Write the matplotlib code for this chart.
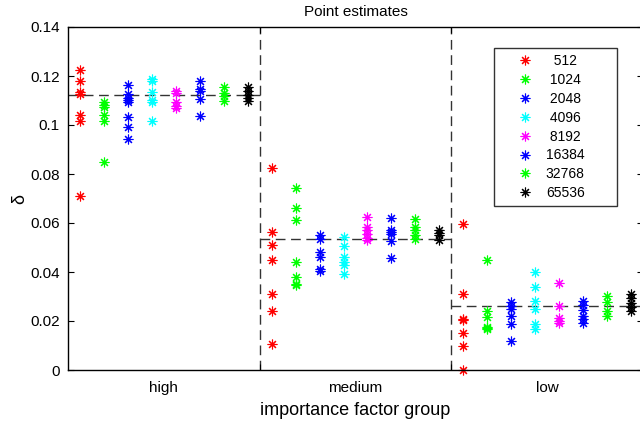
import numpy as np
import matplotlib
matplotlib.use("Agg")
import matplotlib.pyplot as plt
from matplotlib.ticker import FuncFormatter


plt.rcParams["font.family"] = ["Liberation Sans", "DejaVu Sans"]

# groups on the x axis and the horizontal reference level of each
groups = ["high", "medium", "low"]
group_means = [0.1121, 0.0533, 0.0260]

# legend labels and colours (MATLAB style)
series = ["512", "1024", "2048", "4096", "8192", "16384", "32768", "65536"]
colors = ["#ff0000", "#00ff00", "#0000ff", "#00ffff",
          "#ff00ff", "#0000ff", "#00ff00", "#000000"]

# point estimates per series: (high, medium, low)
v512 = ([0.1225, 0.1180, 0.1135, 0.1128, 0.1042, 0.1018, 0.0712],
        [0.0825, 0.0563, 0.0509, 0.0451, 0.0309, 0.0242, 0.0105],
        [0.0594, 0.0312, 0.0210, 0.0204, 0.0152, 0.0098, 0.0000])
v1024 = ([0.1092, 0.1083, 0.1075, 0.1042, 0.1018, 0.0848],
         [0.0744, 0.0661, 0.0611, 0.0441, 0.0380, 0.0353, 0.0346],
         [0.0448, 0.0241, 0.0215, 0.0176, 0.0170, 0.0167])
v2048 = ([0.1164, 0.1126, 0.1112, 0.1102, 0.1095, 0.1031, 0.0990, 0.0943],
         [0.0549, 0.0536, 0.0482, 0.0461, 0.0414, 0.0404],
         [0.0278, 0.0260, 0.0247, 0.0220, 0.0186, 0.0119])
v4096 = ([0.1186, 0.1180, 0.1135, 0.1102, 0.1095, 0.1018],
         [0.0543, 0.0505, 0.0461, 0.0441, 0.0427, 0.0391],
         [0.0399, 0.0339, 0.0281, 0.0251, 0.0187, 0.0166])
v8192 = ([0.1140, 0.1130, 0.1092, 0.1079, 0.1069],
         [0.0624, 0.0583, 0.0570, 0.0556, 0.0540, 0.0532],
         [0.0355, 0.0260, 0.0214, 0.0200, 0.0193])
v16384 = ([0.1178, 0.1147, 0.1137, 0.1106, 0.1038],
          [0.0621, 0.0573, 0.0563, 0.0554, 0.0526, 0.0457],
          [0.0281, 0.0265, 0.0244, 0.0220, 0.0210, 0.0190])
v32768 = ([0.1156, 0.1129, 0.1119, 0.1099],
          [0.0615, 0.0583, 0.0573, 0.0549, 0.0536],
          [0.0301, 0.0278, 0.0240, 0.0220])
v65536 = ([0.1156, 0.1140, 0.1123, 0.1112, 0.1099],
          [0.0570, 0.0559, 0.0549, 0.0529],
          [0.0312, 0.0294, 0.0274, 0.0258, 0.0241])

yticks = [0, 0.02, 0.04, 0.06, 0.08, 0.1, 0.12, 0.14]


def main():
    values = [v512, v1024, v2048, v4096, v8192, v16384, v32768, v65536]
    n = len(series)
    fig = plt.figure(figsize=(6.4, 4.22), dpi=100)
    ax = fig.add_axes([68/640, 52/422, 575/640, 343/422])

    star = (8, 2, 0)
    handles = []
    for i, (name, col, vals) in enumerate(zip(series, colors, values)):
        for g, pts in enumerate(vals):
            xs = np.full(len(pts), g + (i + 0.5) / n)
            h, = ax.plot(xs, pts, linestyle="none", marker=star,
                         markersize=7, markeredgewidth=0.8,
                         color=col, label=name, clip_on=False)
        handles.append(h)

    for g, m in enumerate(group_means):
        ax.hlines(m, g, g + 1, colors="0.2", linewidth=1.0,
                  linestyles=(0, (7, 4)), zorder=1)
    for g in range(1, len(groups)):
        ax.axvline(g, color="0.2", linewidth=1.0,
                   linestyle=(0, (7, 4)), zorder=1)

    # 見た目
    ax.set_xlim(0, len(groups))
    ax.set_ylim(yticks[0], yticks[-1])
    ax.set_yticks(yticks)
    ax.yaxis.set_major_formatter(FuncFormatter(lambda v, p: f"{v:g}"))
    ax.set_xticks(range(1, len(groups)))
    ax.set_xticklabels([])
    ax.set_xticks([g + 0.5 for g in range(len(groups))], minor=True)
    ax.set_xticklabels(groups, minor=True)
    ax.tick_params(axis="both", which="major", direction="in", length=4,
                   width=0.8, labelsize=11, top=True, right=True)
    ax.tick_params(axis="x", which="minor", length=0, labelsize=11, pad=8)
    ax.tick_params(axis="y", pad=6)
    for sp in ax.spines.values():
        sp.set_linewidth(1.0)

    ax.set_title("Point estimates", fontsize=11, pad=8)
    ax.set_xlabel("importance factor group", fontsize=13, labelpad=5)
    ax.set_ylabel("δ", fontsize=13, labelpad=1)

    pad = {3: "\u2007", 4: "\u2008", 5: ""}
    labels = [pad.get(len(s), "") + s for s in series]
    leg = ax.legend(handles, labels, loc="upper left",
                    bbox_to_anchor=(0.741, 0.939, 0.214, 0.0),
                    mode="expand", borderaxespad=0,
                    numpoints=1, fontsize=10, frameon=True, fancybox=False,
                    edgecolor="black", handlelength=3.55, handletextpad=-0.27,
                    labelspacing=0.35, borderpad=0.45)
    leg.get_frame().set_linewidth(1.0)

    fig.savefig("out.png", dpi=100)
    plt.close(fig)
    return None


if __name__ == "__main__":
    main()
